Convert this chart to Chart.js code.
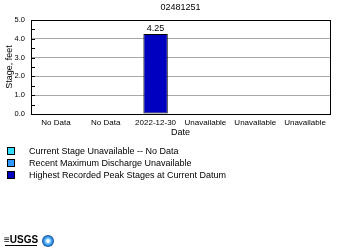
<!DOCTYPE html>
<html><head><meta charset="utf-8">
<script src="https://cdn.jsdelivr.net/npm/chart.js@4"></script>
<style>html,body{margin:0;padding:0;background:#fff;}canvas{display:block;}</style>
</head><body>
<canvas id="c" width="350" height="250"></canvas>
<script>
const siteTitle = "02481251";
const categories = ["No Data","No Data","2022-12-30","Unavailable","Unavailable","Unavailable"];
const currentStage = [null,null,null,null,null,null];
const recentMaxDischarge = [null,null,null,null,null,null];
const highestPeakStage = [null,null,4.25,null,null,null];
const seriesNames = ["Current Stage Unavailable -- No Data","Recent Maximum Discharge Unavailable","Highest Recorded Peak Stages at Current Datum"];
const seriesColors = ["#33ddff","#3399ff","#0000c0"];
const yTicks = [0,1,2,3,4,5];

const FONT = "'Liberation Sans', Arial, sans-serif";

const extras = {
  id:'extras',
  afterDatasetsDraw(chart){
    const {ctx, chartArea:a, scales:{y}} = chart;
    ctx.save();
    ctx.strokeStyle='#000'; ctx.lineWidth=1;
    ctx.strokeRect(Math.round(a.left)+0.5, Math.round(a.top)+0.5, Math.round(a.right-a.left), Math.round(a.bottom-a.top));
    for(let v=0.5; v<5; v+=1){
      const py=Math.round(y.getPixelForValue(v))+0.5;
      ctx.beginPath(); ctx.moveTo(a.left,py); ctx.lineTo(a.left+4,py); ctx.stroke();
    }
    for(const v of yTicks){
      const py=Math.round(y.getPixelForValue(v))+0.5;
      ctx.beginPath(); ctx.moveTo(a.left,py); ctx.lineTo(a.left+4,py); ctx.stroke();
    }
    ctx.fillStyle='#000'; ctx.font='9px '+FONT; ctx.textAlign='center'; ctx.textBaseline='bottom';
    chart.data.datasets.forEach((ds,i)=>{
      const meta=chart.getDatasetMeta(i);
      meta.data.forEach((el,j)=>{
        if(ds.data[j]!=null){ ctx.fillText(ds.data[j].toFixed(2), el.x, el.y-1); }
      });
    });
    ctx.font='9px '+FONT; ctx.textBaseline='middle';
    ctx.fillText(siteTitle,(a.left+a.right)/2,8);
    ctx.textAlign='left';
    chart.data.datasets.forEach((ds,i)=>{
      const top=147+i*12;
      ctx.fillStyle=ds.backgroundColor; ctx.fillRect(7.5,top+0.5,7,7);
      ctx.strokeStyle='#000'; ctx.strokeRect(7.5,top+0.5,7,7);
      ctx.fillStyle='#000'; ctx.font='9px '+FONT; ctx.fillText(ds.label,29,top+4.5);
    });
    ctx.font='bold 10px '+FONT; ctx.fillStyle='#000';
    ctx.fillText('\u2261USGS',4,240);
    ctx.fillRect(5,245,32,1);
    const g=ctx.createRadialGradient(48,241,1,48,241,6);
    g.addColorStop(0,'#ffffff'); g.addColorStop(0.5,'#3fa9f5'); g.addColorStop(1,'#1a4fa0');
    ctx.fillStyle=g; ctx.beginPath(); ctx.arc(48,241,6,0,Math.PI*2); ctx.fill();
    ctx.restore();
  }
};

const common = {borderColor:'#000',borderWidth:1,borderSkipped:false,grouped:false,barPercentage:0.49,categoryPercentage:1};

new Chart(document.getElementById('c'),{
  type:'bar',
  data:{
    labels:categories,
    datasets:[
      Object.assign({label:seriesNames[0],data:currentStage,backgroundColor:seriesColors[0]},common),
      Object.assign({label:seriesNames[1],data:recentMaxDischarge,backgroundColor:seriesColors[1]},common),
      Object.assign({label:seriesNames[2],data:highestPeakStage,backgroundColor:seriesColors[2]},common)
    ]
  },
  options:{
    responsive:false,animation:false,
    layout:{padding:{left:0,right:20,top:20,bottom:112}},
    plugins:{legend:{display:false},title:{display:false},tooltip:{enabled:false}},
    scales:{
      x:{
        grid:{display:false,drawTicks:false},border:{display:false},
        ticks:{color:'#000',font:{family:FONT,size:8},padding:4,maxRotation:0,autoSkip:false},
        title:{display:true,text:'Date',color:'#000',font:{family:FONT,size:9},padding:{top:0,bottom:0}},
        afterFit(s){s.height=24;}
      },
      y:{
        min:0,max:5,
        afterBuildTicks(s){s.ticks=yTicks.map(v=>({value:v}));},
        grid:{color:'#a8a8a8',drawTicks:false},border:{display:false},
        ticks:{color:'#000',font:{family:FONT,size:7.5},padding:6,callback:v=>v.toFixed(1)},
        title:{display:true,text:'Stage, feet',color:'#000',font:{family:FONT,size:9},padding:{top:4,bottom:0}},
        afterFit(s){s.width=31;}
      }
    }
  },
  plugins:[extras]
});
</script>
</body></html>
